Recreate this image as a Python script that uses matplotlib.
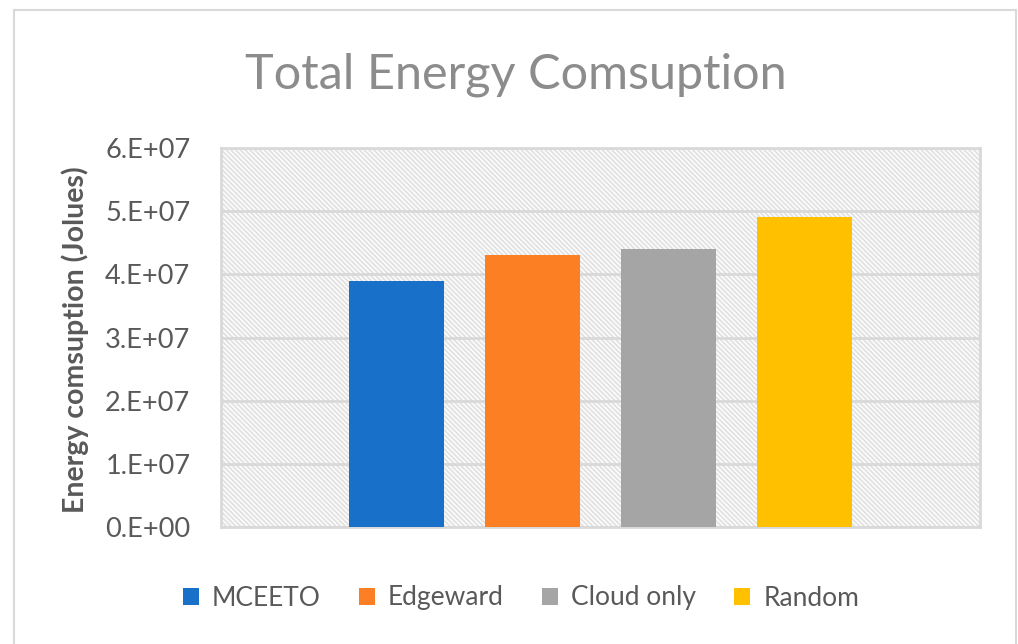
import matplotlib
matplotlib.use("Agg")
import matplotlib.pyplot as plt
from matplotlib.patches import Rectangle, Patch
from matplotlib.lines import Line2D

series = ["MCEETO", "Edgeward", "Cloud only", "Random"]
values = [3.9e7, 4.3e7, 4.4e7, 4.9e7]
colors = ["#1870c8", "#fd7f23", "#a5a5a5", "#ffc000"]
yticks = [0, 1e7, 2e7, 3e7, 4e7, 5e7, 6e7]
ytick_labels = ["0.E+00", "1.E+07", "2.E+07", "3.E+07", "4.E+07", "5.E+07", "6.E+07"]
title = "Total Energy Comsuption"
ylabel = "Energy comsuption (Jolues)"

plt.rcParams['font.family'] = ['Lato', 'DejaVu Sans']
plt.rcParams['hatch.linewidth'] = 1.4
plt.rcParams['hatch.color'] = '#e2e2e2'

W, H = 1018, 644
fig = plt.figure(figsize=(W / 100, H / 100), dpi=100)
fig.patch.set_facecolor('white')

# outer chart border
bc = '#d9d9d9'
fig.add_artist(Line2D([14 / W, 14 / W], [0, 1 - 10 / H], color=bc, lw=1.5))
fig.add_artist(Line2D([14 / W, 1016 / W], [1 - 10 / H, 1 - 10 / H], color=bc, lw=1.5))
fig.add_artist(Line2D([1016 / W, 1016 / W], [0, 1 - 10 / H], color=bc, lw=1.5))

ax = fig.add_axes([221 / W, 1 - 527 / H, (980 - 221) / W, (527 - 148) / H])
ax.set_facecolor('white')
ax.add_patch(Rectangle((0, 0), 1, 1, transform=ax.transAxes, facecolor='white',
                       edgecolor='#e2e2e2', hatch='\\' * 7, lw=0, zorder=0))

bar_w = 0.125
step = 0.1795
n = len(series)
for i, (s, v, c) in enumerate(zip(series, values, colors)):
    x = (i - (n - 1) / 2) * step
    ax.bar(x, v, width=bar_w, color=c, zorder=3, label=s)

ax.set_xlim(-0.5, 0.5)
ax.set_ylim(0, 6e7)
ax.set_yticks(yticks)
ax.set_yticklabels(ytick_labels)
ax.set_xticks([])
ax.yaxis.grid(True, color='#d9d9d9', lw=2)
ax.set_axisbelow(False)
for gl in ax.get_ygridlines():
    gl.set_zorder(1)
ax.tick_params(axis='y', length=0, pad=22, labelsize=19.5, labelcolor='#595959')
for sp in ax.spines.values():
    sp.set_color('#d9d9d9')
    sp.set_linewidth(2)
    sp.set_zorder(2)

fig.text(75 / W, 1 - 340 / H, ylabel, rotation=90, ha='center', va='center',
         fontsize=20.5, fontweight='bold', color='#595959')
fig.text(516 / W, 1 - 75 / H, title, ha='center', va='center', fontsize=35,
         color='#8c8c8c')

handles = [Patch(facecolor=c, edgecolor='none') for c in colors]
fig.legend(handles, series, loc='center', bbox_to_anchor=(521 / W, 1 - 598 / H),
           ncol=4, frameon=False, fontsize=19, labelcolor='#595959',
           handlelength=0.6, handleheight=0.6, handletextpad=0.5, columnspacing=1.45)

fig.savefig('out.png', dpi=100, facecolor='white')
